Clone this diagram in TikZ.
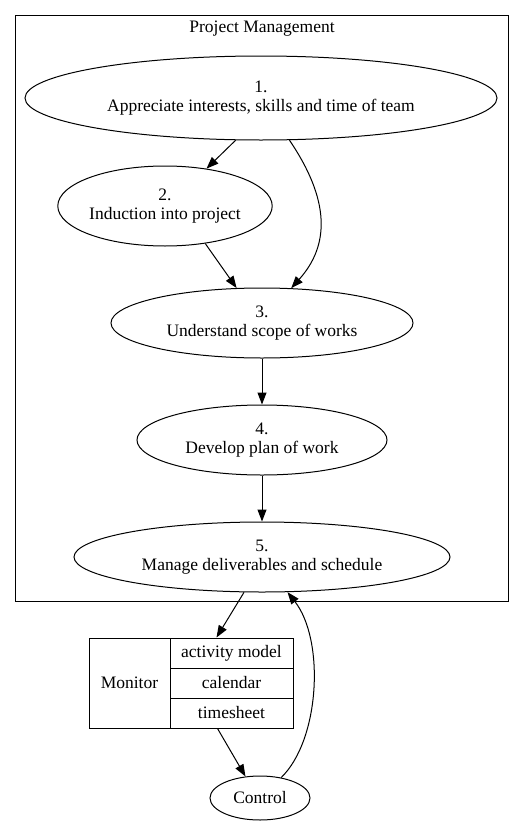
\documentclass[tikz,border=0pt]{standalone}
\usepackage{fontspec}
\setmainfont{Liberation Serif}
\usetikzlibrary{shapes.geometric,arrows.meta,calc}
\begin{document}
\begin{tikzpicture}[x=1pt,y=-1pt,
  every node/.style={font=\fontsize{17.5}{19}\selectfont},
  ell/.style={draw, ellipse, inner sep=0pt, align=center, line width=1pt},
  cell/.style={draw, rectangle, inner sep=0pt, line width=1pt},
  arr/.style={-{Triangle[length=12pt,width=9pt]}, line width=1pt}
]
\useasboundingbox (0,0) rectangle (524,827);
\node[cell, minimum width=493pt, minimum height=586pt] (cluster) at (261.5,308) {};
\node (title) at (262,29) {Project Management};

\node[ell, minimum width=472pt, minimum height=84pt] (e1) at (261,98) {1.\\Appreciate interests, skills and time of team};
\node[ell, minimum width=214pt, minimum height=80pt] (e2) at (165,206) {2.\\Induction into project};
\node[ell, minimum width=302pt, minimum height=70pt] (e3) at (262,323) {3.\\Understand scope of works};
\node[ell, minimum width=250pt, minimum height=70pt] (e4) at (262,440) {4.\\Develop plan of work};
\node[ell, minimum width=376pt, minimum height=70pt] (e5) at (262,557) {5.\\Manage deliverables and schedule};

\node[cell, minimum width=81pt, minimum height=90pt] (mon) at (129.5,683) {Monitor};
\node[cell, minimum width=123pt, minimum height=30pt] (f1) at (231.5,653) {activity model};
\node[cell, minimum width=123pt, minimum height=30pt] (f2) at (231.5,683) {calendar};
\node[cell, minimum width=123pt, minimum height=30pt] (f3) at (231.5,713) {timesheet};

\node[ell, minimum width=100pt, minimum height=44pt] (ctl) at (260,798) {Control};

\draw[arr] (e1.-121) -- (e2.42);
\draw[arr] (e1.-56) .. controls (330,200) and (330,245) .. (e3.50);
\draw[arr] (e2.-43) -- (e3.126);
\draw[arr] (e3.south) -- (e4.north);
\draw[arr] (e4.south) -- (e5.north);
\draw[arr] (e5.-117) -- ([xshift=-15pt]f1.north);
\draw[arr] ([xshift=-14pt]f3.south) -- (ctl.124);
\draw[arr] (ctl.44) .. controls (320,740) and (325,640) .. (e5.-54);
\end{tikzpicture}
\end{document}
